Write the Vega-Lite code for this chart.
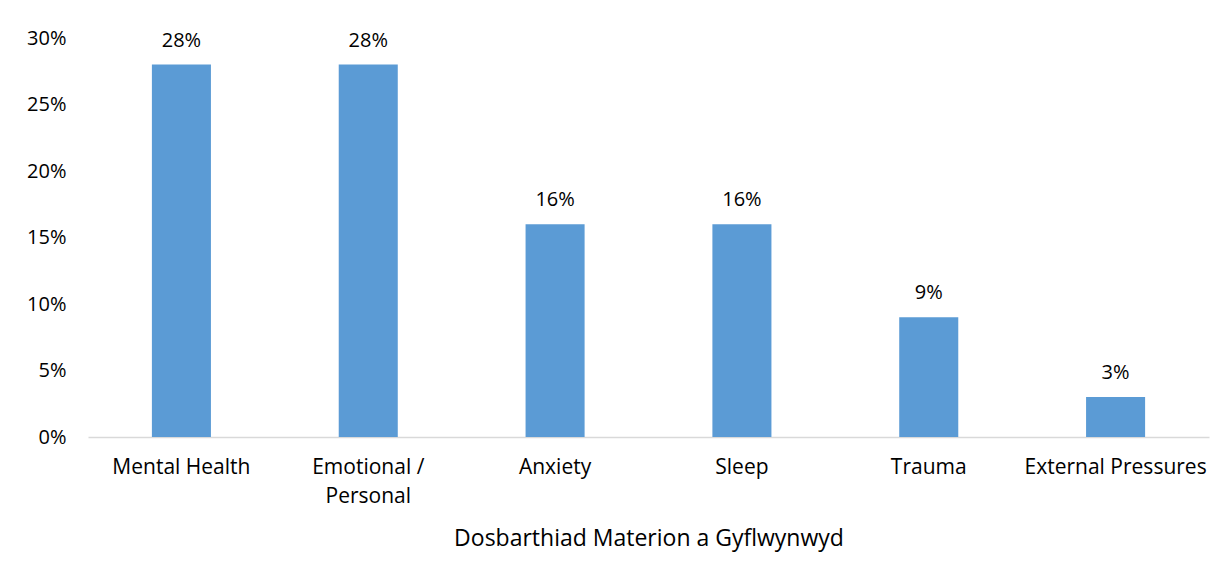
{
  "$schema": "https://vega.github.io/schema/vega-lite/v6.json",
  "autosize": "none",
  "width": 1121,
  "height": 399,
  "padding": {"left": 88, "top": 38, "right": 23, "bottom": 144},
  "background": "white",
  "config": {
    "view": {"stroke": null},
    "font": "Open Sans",
    "axis": {"labelFont": "Open Sans", "titleFont": "Open Sans"}
  },
  "data": {
    "values": [
      {"category": "Mental Health", "value": 0.28},
      {"category": "Emotional / Personal", "value": 0.28},
      {"category": "Anxiety", "value": 0.16},
      {"category": "Sleep", "value": 0.16},
      {"category": "Trauma", "value": 0.09},
      {"category": "External Pressures", "value": 0.03}
    ]
  },
  "encoding": {
    "x": {
      "field": "category",
      "type": "nominal",
      "sort": null,
      "scale": {"paddingInner": 0.684, "paddingOuter": 0.342},
      "axis": {
        "title": "Dosbarthiad Materion a Gyflwynwyd",
        "titleFontSize": 23,
        "titleFontWeight": "normal",
        "titleColor": "#000000",
        "titlePadding": 21,
        "labelAngle": 0,
        "labelFontSize": 21,
        "labelLimit": 400,
        "labelOverlap": false,
        "labelColor": "#000000",
        "labelPadding": 19,
        "labelLineHeight": 29,
        "labelBaseline": "top",
        "labelExpr": "datum.value == 'Emotional / Personal' ? ['Emotional /', 'Personal'] : datum.label",
        "ticks": false,
        "domainColor": "#D9D9D9",
        "domainWidth": 1.5,
        "grid": false
      }
    },
    "y": {
      "field": "value",
      "type": "quantitative",
      "scale": {"domain": [0, 0.3], "nice": false},
      "axis": {
        "title": null,
        "format": ".0%",
        "values": [0, 0.05, 0.1, 0.15, 0.2, 0.25, 0.3],
        "labelFontSize": 20,
        "labelColor": "#000000",
        "labelPadding": 22,
        "ticks": false,
        "domain": false,
        "grid": false
      }
    }
  },
  "layer": [
    {"mark": {"type": "bar", "color": "#5B9BD5"}},
    {
      "mark": {"type": "text", "baseline": "bottom", "dy": -14, "fontSize": 20, "color": "#000000"},
      "encoding": {"text": {"field": "value", "type": "quantitative", "format": ".0%"}}
    }
  ]
}
